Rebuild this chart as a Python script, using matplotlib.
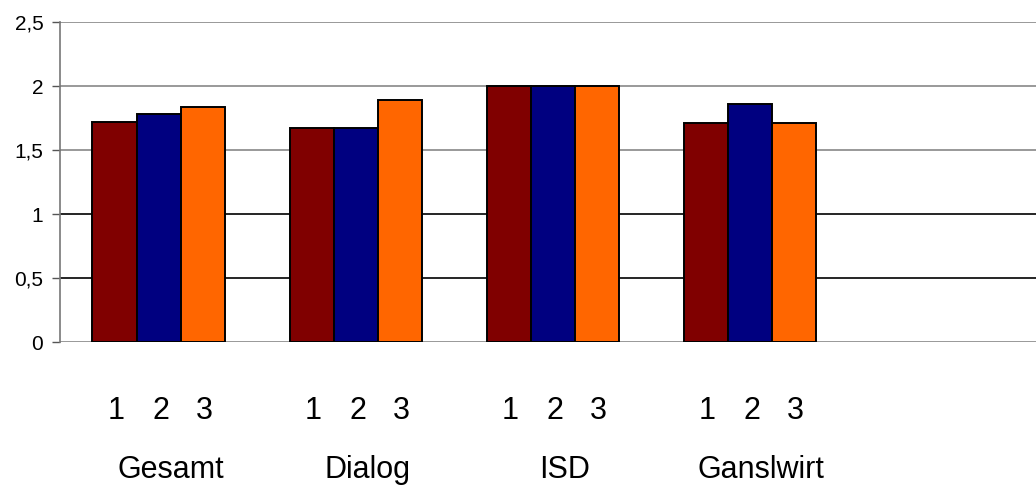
import numpy as np
import matplotlib.pyplot as plt
import matplotlib.transforms as mtransforms

plt.rcParams['font.family'] = ['Liberation Sans', 'DejaVu Sans']

# Mean ratings per group for the three survey waves
categories = ["Gesamt", "Dialog", "ISD", "Ganslwirt"]
wave1 = [1.72, 1.67, 2.0, 1.71]
wave2 = [1.78, 1.67, 2.0, 1.86]
wave3 = [1.835, 1.89, 2.0, 1.71]
wave_labels = ["1", "2", "3"]
yticks = [0, 0.5, 1, 1.5, 2, 2.5]

colors = ["#800000", "#000080", "#FF6600"]

fig = plt.figure(figsize=(10.36, 4.9), dpi=100)
ax = fig.add_axes([60 / 1036, 148 / 490, 1 - 60 / 1036, 320 / 490])

x = np.arange(len(categories))
w = 44 / 197
for i, vals in enumerate([wave1, wave2, wave3]):
    ax.bar(x + (i - 1) * w, vals, width=w, color=colors[i],
           edgecolor="black", linewidth=1.4, zorder=3)

ax.set_ylim(0, 2.5)
ax.set_xlim(-0.5, -0.5 + 976 / 197)

# horizontal grid lines
grid_colors = ["#888888", "black", "black", "#888888", "#888888", "#888888"]
for yv, gc in zip(yticks, grid_colors):
    ax.axhline(yv, color=gc, linewidth=1.2, zorder=1)

ax.set_yticks(yticks)
ax.set_yticklabels([f"{v:g}".replace(".", ",") for v in yticks], fontsize=15)
ax.tick_params(axis="y", direction="out", length=6, width=1, color="#555555", pad=6)
ax.set_xticks([])
for s in ["top", "right", "bottom"]:
    ax.spines[s].set_visible(False)
ax.spines["left"].set_color("#777777")
ax.spines["left"].set_linewidth(1.2)

# wave numbers under each bar and group names beneath
trans = mtransforms.blended_transform_factory(ax.transData, ax.transAxes)
for xi, name in zip(x, categories):
    for i, lab in enumerate(wave_labels):
        ax.text(xi + (i - 1) * w + 0.01, -0.215, lab, transform=trans,
                ha="center", va="center", fontsize=22)
    ax.text(xi + 0.06, -0.40, name, transform=trans,
            ha="center", va="center", fontsize=22)

fig.savefig("out.png", dpi=100)
